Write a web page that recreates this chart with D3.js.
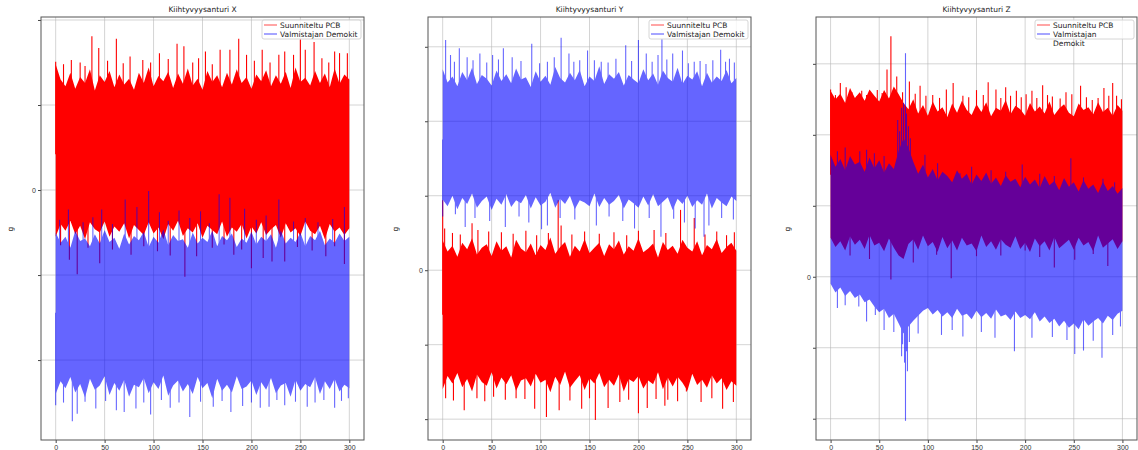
<!DOCTYPE html>
<meta charset="utf-8">
<body style="margin:0;background:#fff">
<script src="https://cdn.jsdelivr.net/npm/d3@7/dist/d3.min.js"></script>
<style>
  body { font-family: "DejaVu Sans", sans-serif; }
  .tick text { font-size: 7px; fill: #333; }
  .tick line { stroke: #444; }
  .title, .legend text { font-size: 7.5px; fill: #222; }
</style>
<script>
// sample times (s) for the dense band edges
var t = [0,5,10,15,20,25,30,35,40,45,50,55,60,65,70,75,80,85,90,95,100,105,110,115,120,125,130,135,140,145,
  150,155,160,165,170,175,180,185,190,195,200,205,210,215,220,225,230,235,240,245,250,255,260,265,270,275,280,285,290,295,300];
var xTicks = [0, 50, 100, 150, 200, 250, 300];
var seriesNames = ["Suunniteltu PCB", "Valmistajan Demokit"];
var titles = ["Kiihtyvyysanturi X", "Kiihtyvyysanturi Y", "Kiihtyvyysanturi Z"];
var yTicksX = [-3, -2, -1, 0, 1, 2];
var yTicksY = [-2, -1, 0, 1, 2, 3];
var yTicksZ = [-2, -1, 0, 1, 2, 3];

// ---- X sensor ----
var xRedHi = [1.48,1.30,1.22,1.38,1.19,1.33,1.26,1.42,1.17,1.35,1.27,1.40,1.21,1.36,1.24,1.31,1.18,1.38,1.26,1.44,
  1.22,1.34,1.28,1.39,1.20,1.37,1.25,1.43,1.23,1.31,1.18,1.40,1.27,1.35,1.21,1.38,1.24,1.42,1.26,1.33,
  1.19,1.36,1.28,1.41,1.22,1.35,1.25,1.39,1.20,1.44,1.27,1.32,1.23,1.40,1.26,1.37,1.21,1.43,1.25,1.36,1.30];
var xRedLo = [-0.55,-0.40,-0.48,-0.36,-0.52,-0.42,-0.58,-0.38,-0.46,-0.50,-0.37,-0.55,-0.43,-0.49,-0.39,-0.57,-0.41,-0.47,-0.53,-0.38,
  -0.51,-0.44,-0.58,-0.40,-0.48,-0.36,-0.54,-0.45,-0.50,-0.39,-0.56,-0.42,-0.47,-0.52,-0.37,-0.55,-0.44,-0.49,-0.40,-0.57,
  -0.43,-0.51,-0.38,-0.53,-0.46,-0.41,-0.56,-0.39,-0.50,-0.45,-0.54,-0.37,-0.48,-0.52,-0.42,-0.58,-0.40,-0.49,-0.44,-0.53,-0.45];
var xBlueHi = [-0.50,-0.62,-0.55,-0.68,-0.48,-0.60,-0.57,-0.66,-0.52,-0.63,-0.47,-0.61,-0.56,-0.69,-0.51,-0.64,-0.54,-0.59,-0.49,-0.67,
  -0.55,-0.62,-0.46,-0.65,-0.53,-0.60,-0.58,-0.68,-0.50,-0.63,-0.56,-0.61,-0.48,-0.66,-0.54,-0.59,-0.51,-0.67,-0.57,-0.62,
  -0.49,-0.64,-0.55,-0.60,-0.52,-0.68,-0.47,-0.63,-0.56,-0.61,-0.50,-0.66,-0.54,-0.59,-0.48,-0.65,-0.57,-0.62,-0.51,-0.60,-0.55];
var xBlueLo = [-2.40,-2.25,-2.33,-2.20,-2.38,-2.28,-2.44,-2.22,-2.35,-2.30,-2.19,-2.41,-2.27,-2.36,-2.23,-2.43,-2.29,-2.32,-2.21,-2.39,
  -2.26,-2.34,-2.18,-2.42,-2.30,-2.24,-2.37,-2.28,-2.40,-2.20,-2.33,-2.27,-2.45,-2.22,-2.36,-2.29,-2.38,-2.19,-2.34,-2.31,
  -2.24,-2.41,-2.26,-2.35,-2.21,-2.39,-2.30,-2.27,-2.43,-2.23,-2.36,-2.28,-2.32,-2.20,-2.40,-2.25,-2.34,-2.22,-2.37,-2.29,-2.33];
var xRedSpikes = [[0,1.51],[16,1.53],[37,1.81],[44,1.67],[62,1.78],[76,1.57],[89,1.53],[106,1.61],[124,1.72],[131,1.69],
  [153,1.63],[168,1.65],[178,1.65],[187,1.78],[195,1.59],[211,1.65],[228,1.59],[234,1.63],[243,1.59],[250,1.77],[255,1.65],
  [264,1.74],[272,1.55],[285,1.63],[290,1.61],[298,1.61],[8,1.48],[25,1.50],[30,1.46],[53,1.52],[69,1.49],[97,1.50],
  [115,1.54],[140,1.50],[146,1.55],[160,1.48],[203,1.52],[219,1.50],[279,1.50],
  [14,-0.82],[22,-0.99],[45,-0.86],[77,-0.76],[117,-0.77],[132,-1.02],[144,-0.78],[182,-0.76],[200,-0.92],[212,-0.80],
  [221,-0.84],[234,-0.84],[276,-0.78],[295,-0.87],[5,-0.65],[33,-0.68],[58,-0.70],[90,-0.66],[104,-0.72],[160,-0.68],
  [172,-0.64],[190,-0.70],[247,-0.67],[262,-0.71],[285,-0.66]];
var xBlueSpikes = [[13,-0.23],[47,-0.23],[71,-0.11],[83,-0.20],[95,-0.01],[106,-0.26],[126,-0.24],[148,-0.25],[167,-0.05],
  [178,-0.09],[193,-0.22],[228,-0.11],[295,-0.20],[4,-0.35],[28,-0.38],[38,-0.32],[58,-0.40],[115,-0.36],[137,-0.33],
  [157,-0.39],[205,-0.35],[215,-0.30],[243,-0.37],[255,-0.33],[268,-0.38],[283,-0.34],
  [0,-2.53],[17,-2.72],[22,-2.63],[41,-2.57],[62,-2.59],[70,-2.61],[82,-2.57],[97,-2.64],[117,-2.56],[137,-2.67],
  [161,-2.55],[179,-2.61],[191,-2.54],[209,-2.56],[218,-2.55],[234,-2.53],[257,-2.55],[274,-2.47],[285,-2.56],[299,-2.45],
  [8,-2.50],[30,-2.49],[51,-2.48],[90,-2.50],[108,-2.47],[126,-2.50],[148,-2.49],[170,-2.48],[200,-2.50],[226,-2.47],
  [245,-2.49],[265,-2.50],[292,-2.48]];

// ---- Y sensor ----
var yBlueHi = [2.70,2.52,2.60,2.47,2.66,2.55,2.72,2.50,2.62,2.57,2.48,2.68,2.54,2.63,2.51,2.71,2.56,2.59,2.46,2.67,
  2.53,2.61,2.49,2.73,2.58,2.52,2.65,2.55,2.69,2.47,2.60,2.54,2.74,2.50,2.63,2.57,2.66,2.48,2.62,2.56,
  2.51,2.70,2.55,2.64,2.49,2.68,2.58,2.53,2.72,2.50,2.61,2.56,2.67,2.47,2.65,2.52,2.60,2.54,2.69,2.51,2.58];
var yBlueLo = [0.95,0.86,1.00,0.82,0.97,0.89,1.03,0.84,0.93,0.99,0.81,0.96,0.88,1.02,0.85,0.94,0.90,1.01,0.83,0.98,
  0.87,0.92,1.04,0.84,0.96,0.89,1.00,0.82,0.94,0.91,0.86,1.03,0.85,0.97,0.88,0.93,1.01,0.83,0.95,0.90,
  0.84,0.99,0.87,1.02,0.86,0.92,0.98,0.81,0.96,0.89,1.00,0.85,0.94,0.88,1.03,0.83,0.97,0.91,0.86,0.99,0.93];
var yRedHi = [0.40,0.25,0.33,0.18,0.37,0.28,0.43,0.21,0.30,0.35,0.19,0.39,0.26,0.32,0.17,0.41,0.29,0.24,0.36,0.20,
  0.34,0.27,0.44,0.22,0.31,0.38,0.18,0.33,0.25,0.42,0.23,0.30,0.37,0.19,0.35,0.28,0.40,0.21,0.32,0.26,
  0.43,0.24,0.29,0.36,0.17,0.38,0.27,0.33,0.22,0.41,0.30,0.25,0.39,0.20,0.34,0.28,0.42,0.23,0.31,0.37,0.26];
var yRedLo = [-1.60,-1.42,-1.52,-1.38,-1.57,-1.46,-1.63,-1.40,-1.50,-1.55,-1.37,-1.59,-1.44,-1.53,-1.41,-1.62,-1.48,-1.45,-1.56,-1.39,
  -1.51,-1.47,-1.64,-1.43,-1.54,-1.36,-1.58,-1.49,-1.41,-1.61,-1.45,-1.52,-1.38,-1.57,-1.47,-1.55,-1.40,-1.63,-1.46,-1.50,
  -1.42,-1.59,-1.48,-1.53,-1.37,-1.60,-1.44,-1.56,-1.43,-1.51,-1.62,-1.39,-1.54,-1.47,-1.58,-1.41,-1.52,-1.45,-1.61,-1.49,-1.55];
var yRedSpikes = [[0,0.94],[30,0.63],[118,0.94],[243,0.81],[257,0.70],[2,0.56],[36,0.54],[60,0.51],[121,0.60],[216,0.54],
  [298,0.51],[10,0.50],[18,0.48],[47,0.52],[72,0.49],[85,0.53],[96,0.47],[108,0.50],[132,0.48],[145,0.52],[160,0.49],
  [175,0.51],[188,0.47],[200,0.53],[228,0.50],[268,0.48],[280,0.52],[290,0.47],
  [3,-1.72],[22,-1.88],[52,-1.70],[75,-1.72],[94,-1.86],[106,-1.97],[119,-1.88],[142,-1.86],[156,-2.01],[169,-1.85],
  [181,-1.77],[200,-1.92],[209,-1.85],[227,-1.82],[230,-1.74],[249,-1.63],[264,-1.77],[286,-1.86],[297,-1.77],
  [11,-1.75],[35,-1.72],[43,-1.76],[64,-1.74],[84,-1.73],[130,-1.75],[150,-1.72],[190,-1.74],[218,-1.73],[240,-1.76],[275,-1.72]];
var yBlueSpikes = [[3,3.09],[8,2.89],[17,2.98],[25,2.86],[38,2.91],[51,2.89],[62,2.98],[71,2.86],[91,3.04],[107,2.80],
  [114,2.86],[121,3.12],[129,2.91],[140,2.82],[148,2.95],[162,2.80],[177,2.84],[187,3.02],[200,3.09],[208,2.91],[220,2.89],
  [224,3.10],[235,2.91],[245,2.95],[257,2.80],[269,2.77],[284,2.96],[293,2.84],[12,2.80],[31,2.82],[45,2.79],[57,2.83],
  [80,2.81],[99,2.78],[134,2.80],[155,2.82],[169,2.79],[193,2.81],[214,2.80],[229,2.83],[251,2.78],[263,2.81],[276,2.82],
  [289,2.80],[298,2.79],
  [0,0.72],[13,0.75],[23,0.58],[33,0.70],[48,0.66],[64,0.58],[78,0.72],[88,0.64],[101,0.55],[107,0.60],[120,0.70],
  [135,0.68],[157,0.60],[170,0.72],[184,0.66],[196,0.56],[211,0.70],[223,0.45],[236,0.69],[247,0.64],[258,0.56],
  [267,0.45],[272,0.60],[285,0.70],[297,0.68]];

// ---- Z sensor ----
var zRedHi = [2.62,2.50,2.58,2.45,2.66,2.52,2.60,2.48,2.64,2.55,2.47,2.63,2.51,2.68,2.57,
  2.45,2.36,2.50,2.30,2.42,2.27,2.47,2.33,2.39,2.25,2.44,2.31,2.48,2.35,2.28,2.43,2.32,2.46,2.26,2.38,
  2.34,2.49,2.29,2.41,2.36,2.27,2.45,2.33,2.40,2.30,2.47,2.28,2.37,2.43,2.31,2.26,2.44,2.35,2.39,2.29,
  2.46,2.32,2.38,2.27,2.42,2.34];
var zRedLo = [0.55,0.42,0.50,0.37,0.57,0.45,0.52,0.39,0.59,0.44,0.48,0.36,0.54,0.41,0.30,0.25,0.46,0.53,0.38,0.58,
  0.43,0.49,0.35,0.56,0.40,0.51,0.37,0.55,0.44,0.47,0.36,0.58,0.42,0.50,0.38,0.53,0.45,0.41,0.57,0.39,
  0.48,0.35,0.54,0.43,0.50,0.37,0.56,0.40,0.46,0.52,0.38,0.55,0.44,0.49,0.36,0.58,0.41,0.47,0.53,0.39,0.50];
var zBlueHi = [1.72,1.55,1.66,1.50,1.70,1.58,1.62,1.48,1.68,1.53,1.64,1.47,1.60,1.52,1.78,1.95,1.82,1.62,1.45,1.58,
  1.40,1.52,1.36,1.48,1.42,1.33,1.50,1.38,1.45,1.30,1.44,1.35,1.47,1.31,1.40,1.28,1.43,1.34,1.38,1.26,
  1.41,1.30,1.37,1.25,1.42,1.29,1.35,1.22,1.39,1.27,1.33,1.20,1.36,1.24,1.30,1.18,1.34,1.21,1.28,1.17,1.25];
var zBlueLo = [-0.10,-0.22,-0.15,-0.27,-0.20,-0.30,-0.25,-0.36,-0.32,-0.42,-0.50,-0.45,-0.58,-0.52,-0.66,-0.80,-0.70,-0.62,-0.55,-0.48,
  -0.44,-0.53,-0.47,-0.56,-0.50,-0.58,-0.45,-0.55,-0.52,-0.60,-0.48,-0.57,-0.51,-0.59,-0.46,-0.56,-0.53,-0.61,-0.49,-0.58,
  -0.54,-0.60,-0.50,-0.63,-0.56,-0.65,-0.59,-0.70,-0.62,-0.72,-0.66,-0.74,-0.60,-0.69,-0.63,-0.58,-0.66,-0.55,-0.61,-0.52,-0.48];
var zRedSpikes = [[0,2.64],[5,2.56],[10,2.73],[16,2.67],[27,2.54],[37,2.56],[44,2.55],[53,2.59],[58,2.92],[62,3.39],[68,2.82],
  [81,2.75],[92,2.69],[105,2.56],[119,2.64],[126,2.73],[136,2.55],[150,2.63],[162,2.74],[170,2.64],[180,2.67],[191,2.62],
  [201,2.57],[207,2.62],[218,2.70],[228,2.54],[242,2.60],[257,2.69],[269,2.49],[281,2.66],[290,2.73],[294,2.55],
  [22,2.60],[32,2.62],[48,2.63],[74,2.60],[87,2.58],[98,2.55],[112,2.52],[142,2.53],[157,2.56],[175,2.52],[185,2.55],
  [196,2.53],[212,2.52],[223,2.56],[236,2.51],[248,2.57],[263,2.53],[275,2.52],[286,2.55],[299,2.50],
  [62,-0.04],[124,-0.02],[230,0.13],[251,0.24],[285,0.15],[109,0.31],[150,0.29],[200,0.37],[20,0.30],[40,0.25],
  [85,0.20],[175,0.30],[215,0.28],[270,0.32]];
var zBlueSpikes = [[7,1.77],[15,1.82],[30,1.77],[37,1.79],[45,1.74],[55,1.70],[69,2.21],[71,2.05],[73,2.38],[75,2.45],
  [77,3.15],[78,2.30],[80,2.12],[82,1.95],[97,1.72],[110,1.60],[133,1.46],[145,1.55],[165,1.50],[180,1.48],[197,1.58],
  [215,1.45],[230,1.42],[247,1.67],[260,1.40],[268,1.27],[280,1.38],[292,1.33],
  [7,-0.44],[15,-0.40],[29,-0.42],[37,-0.63],[46,-0.54],[55,-0.75],[65,-0.78],[73,-1.12],[74,-0.95],[76,-1.21],[77,-2.03],
  [78,-1.05],[79,-1.33],[81,-0.92],[90,-0.80],[114,-0.82],[125,-0.75],[136,-0.84],[155,-0.78],[169,-0.86],[189,-1.05],
  [207,-0.86],[228,-0.85],[243,-0.89],[251,-1.09],[260,-1.04],[270,-0.90],[279,-1.14],[290,-0.82],[298,-0.70]];

var colors = ["#ff0000", "#0000ff"];
var opac = [1, 0.6];

var panels = [
  {title: titles[0], left: 41, right: 364, yDomain: [-2.94, 2.035], yTicks: yTicksX, ylab: 13,
   hi: [xRedHi, xBlueHi], lo: [xRedLo, xBlueLo], spikes: [xRedSpikes, xBlueSpikes], wrap: false},
  {title: titles[1], left: 428, right: 751, yDomain: [-2.28, 3.40], yTicks: yTicksY, ylab: 398,
   hi: [yRedHi, yBlueHi], lo: [yRedLo, yBlueLo], spikes: [yRedSpikes, yBlueSpikes], wrap: false},
  {title: titles[2], left: 816, right: 1137, yDomain: [-2.30, 3.66], yTicks: yTicksZ, ylab: 790,
   hi: [zRedHi, zBlueHi], lo: [zRedLo, zBlueLo], spikes: [zRedSpikes, zBlueSpikes], wrap: true}
];

var plotTop = 17, plotBottom = 440;

var svg = d3.select("body").append("svg")
    .attr("width", 1138)
    .attr("height", 450);

// slight softening, the reference is a downscaled screenshot
svg.append("defs").append("filter").attr("id", "soft")
  .append("feGaussianBlur").attr("stdDeviation", 0.35);

panels.forEach(function(p, pi) {
  var x = d3.scaleLinear().domain([-15, 315]).range([p.left, p.right]);
  var y = d3.scaleLinear().domain(p.yDomain).range([plotBottom, plotTop]);
  var g = svg.append("g");

  g.append("clipPath").attr("id", "clip" + pi)
    .append("rect").attr("x", p.left).attr("y", plotTop)
    .attr("width", p.right - p.left).attr("height", plotBottom - plotTop);

  // grid below the data
  var grid = g.append("g").attr("clip-path", "url(#clip" + pi + ")")
    .attr("stroke", "#b8b8b8").attr("stroke-opacity", 0.6).attr("stroke-width", 1);
  grid.selectAll(".vg").data(xTicks).enter().append("line")
    .attr("x1", function(d) { return x(d); }).attr("x2", function(d) { return x(d); })
    .attr("y1", plotTop).attr("y2", plotBottom);
  grid.selectAll(".hg").data(p.yTicks).enter().append("line")
    .attr("y1", function(d) { return y(d); }).attr("y2", function(d) { return y(d); })
    .attr("x1", p.left).attr("x2", p.right);

  // series: dense band + spikes, red first then blue on top
  [0, 1].forEach(function(si) {
    var hi = p.hi[si], lo = p.lo[si];
    var sg = g.append("g").attr("clip-path", "url(#clip" + pi + ")")
      .attr("opacity", opac[si])
      .append("g").attr("filter", "url(#soft)");
    var area = d3.area()
      .x(function(d, j) { return x(t[j]); })
      .y0(function(d, j) { return y(lo[j]); })
      .y1(function(d) { return y(d); });
    sg.append("path").datum(hi).attr("d", area).attr("fill", colors[si]);
    var mid = (d3.mean(hi) + d3.mean(lo)) / 2;
    sg.selectAll("line").data(p.spikes[si]).enter().append("line")
      .attr("x1", function(d) { return x(d[0]); })
      .attr("x2", function(d) { return x(d[0]); })
      .attr("y1", y(mid))
      .attr("y2", function(d) { return y(d[1]); })
      .attr("stroke", colors[si])
      .attr("stroke-width", 1.1);
  });

  // axes
  g.append("g").attr("transform", "translate(0," + plotBottom + ")")
    .call(d3.axisBottom(x).tickValues(xTicks).tickSize(3).tickPadding(2))
    .call(function(a) { a.select(".domain").remove(); });
  g.append("g").attr("transform", "translate(" + p.left + ",0)")
    .call(d3.axisLeft(y).tickValues(p.yTicks.filter(function(v) { return v >= p.yDomain[0]; }))
      .tickSize(3).tickPadding(2)
      .tickFormat(function(d) { return d === 0 ? "0" : ""; }))
    .call(function(a) { a.select(".domain").remove(); });

  g.append("rect").attr("x", p.left).attr("y", plotTop)
    .attr("width", p.right - p.left).attr("height", plotBottom - plotTop)
    .attr("fill", "none").attr("stroke", "#555").attr("stroke-width", 1);

  g.append("text").attr("class", "title")
    .attr("x", (p.left + p.right) / 2).attr("y", 12)
    .attr("text-anchor", "middle").text(p.title);

  g.append("text").attr("class", "title")
    .attr("transform", "translate(" + p.ylab + ",229) rotate(-90)")
    .attr("text-anchor", "middle").text("g");

  // legend
  var lx = p.right - 102, ly = plotTop + 3;
  var leg = g.append("g").attr("class", "legend");
  leg.append("rect").attr("x", lx).attr("y", ly).attr("width", 99).attr("height", 19)
    .attr("rx", 2).attr("fill", "#fff").attr("fill-opacity", 0.8)
    .attr("stroke", "#ccc").attr("stroke-width", 0.8);
  seriesNames.forEach(function(name, si) {
    var yy = ly + 5 + si * 9;
    leg.append("line").attr("x1", lx + 2).attr("x2", lx + 15).attr("y1", yy).attr("y2", yy)
      .attr("stroke", colors[si]).attr("stroke-opacity", 0.55).attr("stroke-width", 1.3);
    var txt = leg.append("text").attr("x", lx + 18).attr("y", yy + 2.6);
    if (p.wrap && si === 1) {
      var parts = name.split(" ");
      txt.text(parts[0]);
      leg.append("text").attr("x", lx + 18).attr("y", yy + 11.6).text(parts[1]);
    } else {
      txt.text(name);
    }
  });
});
</script>
